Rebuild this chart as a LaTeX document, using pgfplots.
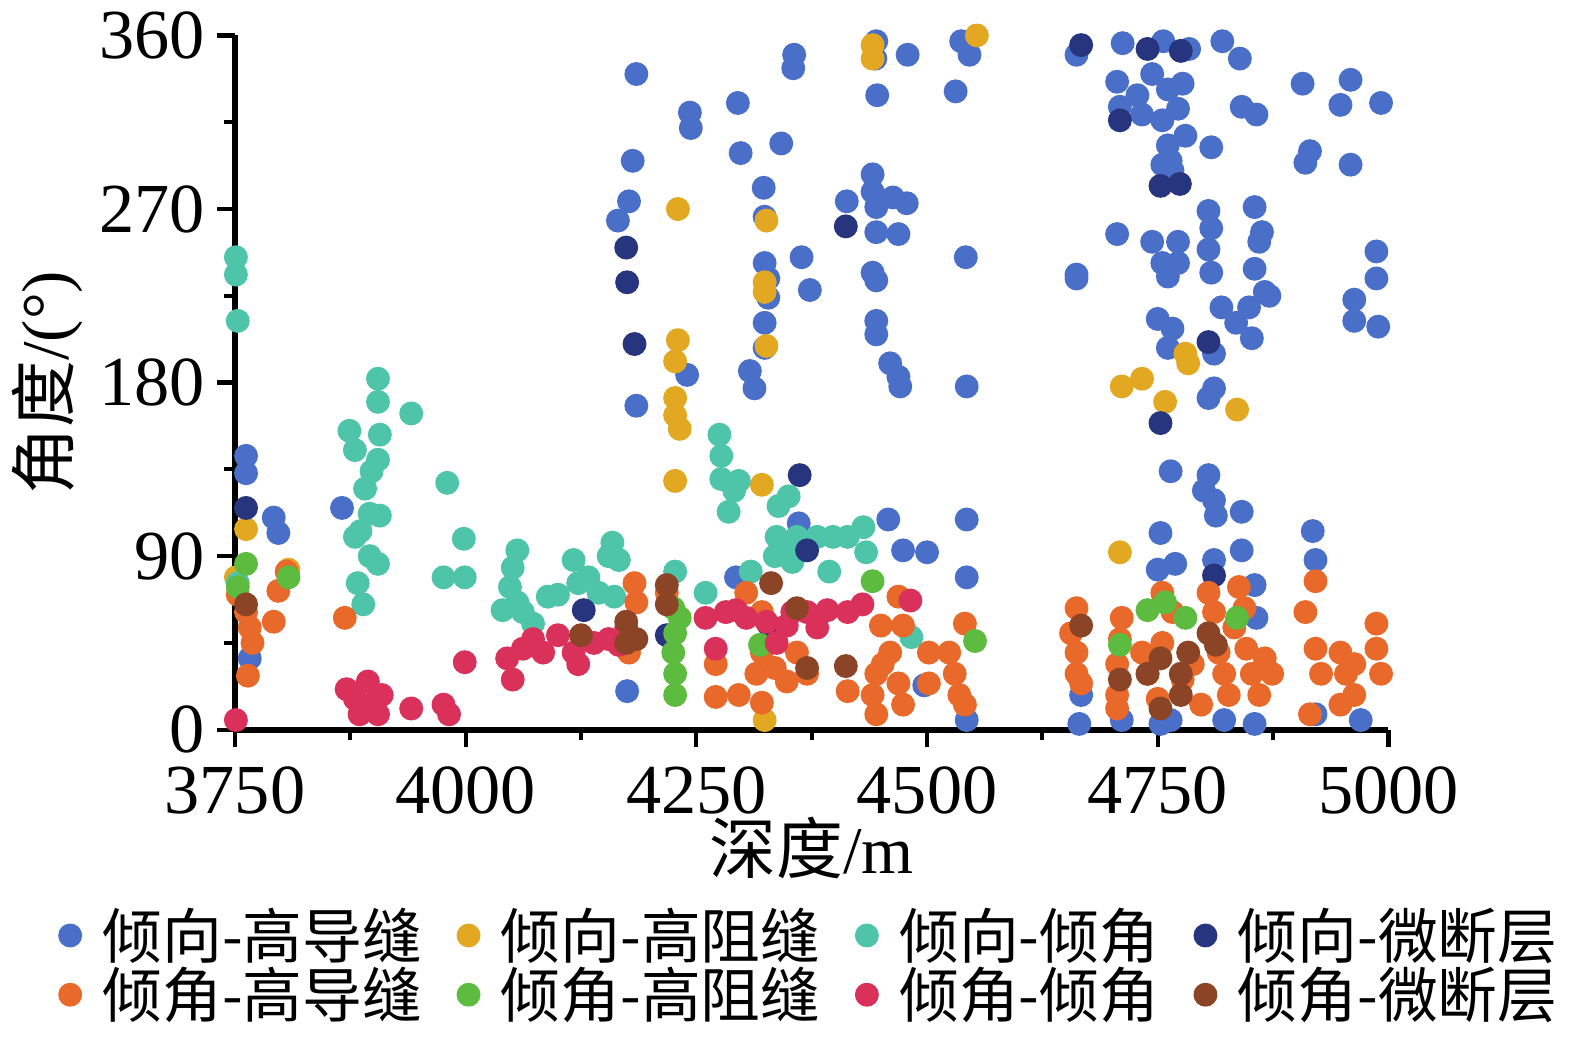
\documentclass[border=0pt]{standalone}
\usepackage{pgfplots}
\pgfplotsset{compat=1.18}
\usepackage{fontspec}
\setmainfont{Liberation Serif}
\newfontfamily\cjk{Noto Sans CJK SC}
\definecolor{cA}{HTML}{4A6FC8}
\definecolor{cB}{HTML}{E3A821}
\definecolor{cC}{HTML}{4EC4A8}
\definecolor{cD}{HTML}{27357E}
\definecolor{cE}{HTML}{E8692A}
\definecolor{cF}{HTML}{5DBB3F}
\definecolor{cG}{HTML}{D9315A}
\definecolor{cH}{HTML}{8B4425}
\begin{document}
\begin{tikzpicture}
\begin{axis}[
 scale only axis, width=11.53cm, height=6.94cm,
 xmin=3750, xmax=5000, ymin=0, ymax=360,
 xtick={3750,4000,4250,4500,4750,5000},
 ytick={0,90,180,270,360},
 minor x tick num=1, minor y tick num=1,
 axis lines=left, axis line style={line width=1.6pt,-},
 tick align=outside, major tick length=5pt, minor tick length=3pt,
 tick style={line width=1.2pt,black},
 /pgf/number format/assume math mode=true,
 /pgf/number format/1000 sep={},
 ticklabel style={font=\fontsize{20}{22}\selectfont},
 xticklabel style={yshift=-2pt},
 xlabel={\cjk 深度\rmfamily/m}, ylabel={\cjk 角度\rmfamily/(°)},
 label style={font=\fontsize{19}{24}\selectfont},
 xlabel style={yshift=6pt}, ylabel style={yshift=-2pt},
 clip=false,
 legend columns=4,
 legend style={draw=none, at={(0.5,-0.235)}, anchor=north, font=\fontsize{17}{20}\selectfont\cjk, row sep=-3pt, /tikz/every even column/.append style={column sep=8pt}, /tikz/every odd column/.append style={column sep=4pt}},
 legend cell align=left,
 every axis plot/.append style={only marks, mark=*, mark size=3.2pt},
]
\addplot[cA, mark options={fill=cA, draw=cA}] coordinates {
(3762,142)(3762,133)(3792,110)(3797,102)(3766,37)(3866,115)
(4185,340)(4181,295)(4177,274)(4165,264)(4185,168)(4175,20)(4240,184)(4243,320)(4244,312)(4295,325)(4298,299)(4342,304)(4356,350)(4355,343)(4323,281)(4324,266)(4324,242)(4328,234)(4328,224)(4324,211)(4324,198)(4308,186)(4313,177)(4364,245)(4373,228)(4293,79)(4361,107)
(4445,357)(4444,348)(4446,329)(4479,350)(4531,331)(4537,357)(4546,350)(4542,245)(4543,178)(4543,109)(4543,79)(4543,5)(4413,274)(4441,288)(4441,279)(4445,271)(4445,258)(4469,257)(4463,276)(4478,273)(4441,237)(4445,233)(4445,212)(4445,205)(4460,190)(4469,183)(4471,178)(4458,109)(4474,93)(4500,92)(4497,23)
(4662,350)(4712,356)(4756,357)(4784,353)(4820,357)(4839,348)
(4706,336)(4728,329)(4744,340)(4761,332)(4777,335)(4709,323)(4733,319)(4755,316)(4772,322)(4780,308)(4761,303)(4764,295)(4766,290)(4755,293)(4808,302)(4841,323)(4857,319)(4907,335)(4915,300)(4910,294)(4948,324)(4959,337)(4959,293)(4992,325)
(4706,257)(4744,253)(4772,253)(4755,242)(4772,242)(4761,235)(4805,269)(4808,260)(4805,249)(4808,237)(4750,213)(4766,208)(4761,198)(4811,195)(4819,219)(4835,211)(4855,271)(4863,258)(4860,253)(4855,239)(4866,227)(4871,225)(4849,219)(4852,203)(4662,236)(4662,234)(4987,248)(4987,234)(4963,223)(4963,212)(4989,209)(4811,177)(4805,172)(4764,134)(4805,132)(4800,124)(4811,119)(4813,111)(4841,113)(4918,103)(4921,88)(4753,102)(4750,83)(4769,86)(4811,88)(4841,93)(4855,75)(4857,58)(4667,18)(4665,3)(4711,5)(4753,3)(4764,5)(4822,5)(4855,3)(4970,5)(4921,8)
};
\addlegendentry{倾向-高导缝}
\addplot[cB, mark options={fill=cB, draw=cB}] coordinates {
(3762,104)(3751,79)(3808,83)(4230,270)(4230,202)(4227,191)(4227,172)(4227,163)(4232,156)(4227,129)(4326,264)(4324,232)(4324,227)(4326,199)(4321,127)(4324,5)(4441,355)(4441,348)(4554,360)(4709,92)(4711,178)(4733,182)(4758,170)(4780,195)(4783,190)(4836,166)
};
\addlegendentry{倾向-高阻缝}
\addplot[cC, mark options={fill=cC, draw=cC}] coordinates {
(3751,245)(3751,236)(3753,212)(3753,76)(3874,155)(3880,145)(3905,182)(3905,170)(3907,153)(3905,140)(3898,134)(3891,125)(3896,112)(3907,111)(3880,100)(3886,103)(3896,90)(3905,86)(3883,76)(3889,65)(3941,164)(3980,128)(3998,99)(3976,79)(3999,79)(4056,93)(4051,84)(4048,74)(4056,66)(4040,62)(4062,61)(4073,55)(4089,69)(4100,70)(4117,88)(4122,76)(4133,79)(4144,71)(4155,90)(4159,97)(4166,88)(4161,69)(4227,82)(4260,71)(4275,153)(4277,142)(4277,130)(4285,113)(4291,124)(4296,129)(4339,116)(4350,121)(4337,100)(4346,95)(4335,90)(4354,87)(4381,100)(4398,100)(4414,100)(4431,105)(4434,92)(4394,82)(4309,82)(4483,48)(4359,100)
};
\addlegendentry{倾向-倾角}
\addplot[cD, mark options={fill=cD, draw=cD}] coordinates {
(3762,115)(4174,250)(4175,232)(4183,200)(4362,132)(4370,93)(4412,261)(4329,54)(4128,62)(4218,49)(4667,355)(4739,353)(4775,352)(4709,316)(4753,282)(4774,283)(4805,201)(4753,159)(4811,80)
};
\addlegendentry{倾向-微断层}
\addplot[cE, mark options={fill=cE, draw=cE}] coordinates {
(3753,70)(3762,61)(3766,53)(3769,45)(3764,28)(3797,72)(3792,56)(3806,82)(3869,58)(4183,76)(4185,66)(4177,40)(4218,71)(4271,34)(4271,17)(4296,18)(4304,71)(4321,61)(4321,40)(4315,29)(4321,14)(4335,32)(4348,25)(4359,40)(4370,29)(4414,20)(4445,29)(4441,18)(4445,8)(4452,34)(4460,40)(4469,24)(4474,13)(4469,69)(4474,54)(4450,54)(4502,40)(4502,24)(4524,40)(4530,29)(4535,18)(4541,13)(4541,55)(4662,63)(4656,50)(4662,40)(4662,29)(4667,24)(4711,58)(4709,47)(4706,34)(4706,18)(4706,11)(4733,40)(4739,29)(4755,71)(4755,45)(4766,61)(4750,16)(4777,26)(4788,34)(4797,13)(4805,71)(4811,61)(4816,40)(4822,29)(4827,18)(4833,53)(4838,74)(4844,63)(4846,42)(4852,29)(4860,18)(4866,37)(4874,29)(4910,61)(4921,77)(4921,42)(4927,29)(4915,8)(4948,40)(4954,29)(4963,34)(4963,18)(4987,55)(4987,42)(4992,29)(4948,13)
};
\addlegendentry{倾角-高导缝}
\addplot[cF, mark options={fill=cF, draw=cF}] coordinates {
(3753,74)(3762,86)(3808,79)(4225,63)(4227,50)(4225,40)(4227,29)(4227,18)(4232,58)(4319,44)(4441,77)(4552,46)(4709,44)(4739,62)(4758,66)(4780,58)(4836,58)
};
\addlegendentry{倾角-高阻缝}
\addplot[cG, mark options={fill=cG, draw=cG}] coordinates {
(3751,5)(3871,21)(3880,16)(3894,25)(3896,13)(3905,8)(3909,18)(3885,8)(3941,11)(3976,13)(3982,8)(3999,35)(4045,37)(4051,26)(4062,42)(4073,47)(4084,40)(4100,49)(4117,40)(4122,34)(4139,45)(4155,47)(4166,44)(4174,53)(4260,58)(4271,42)(4282,61)(4293,62)(4304,58)(4326,56)(4337,45)(4348,54)(4354,61)(4370,61)(4381,53)(4392,62)(4414,61)(4430,65)(4482,67)
};
\addlegendentry{倾角-倾角}
\addplot[cH, mark options={fill=cH, draw=cH}] coordinates {
(3762,65)(4125,49)(4174,56)(4174,45)(4185,47)(4218,75)(4218,65)(4331,76)(4359,63)(4370,32)(4412,33)(4667,54)(4709,26)(4739,29)(4753,37)(4753,11)(4775,29)(4783,40)(4775,18)(4805,50)(4813,44)
};
\addlegendentry{倾角-微断层}
\end{axis}
\end{tikzpicture}
\end{document}
